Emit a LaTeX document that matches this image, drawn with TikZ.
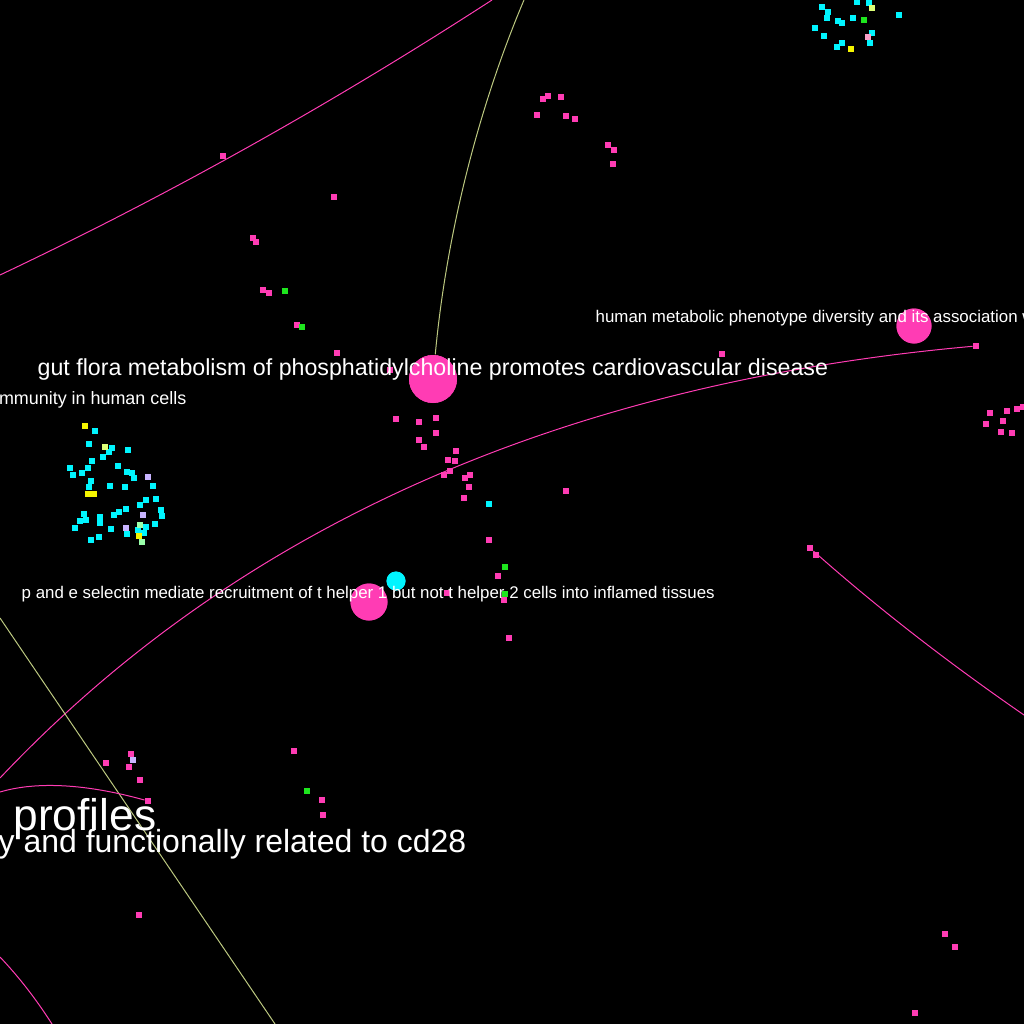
\documentclass[tikz,border=0pt]{standalone}
\usepackage{fontspec}
\setmainfont{Liberation Sans}
\usepackage{xcolor}
\usepackage{tikz}
\usetikzlibrary{positioning}

\definecolor{hotpink}{HTML}{FF3CB4}
\definecolor{aqua}{HTML}{00F5FF}
\definecolor{leaf}{HTML}{1EE61E}
\definecolor{lemon}{HTML}{F5F500}
\definecolor{lime}{HTML}{DDFF77}
\definecolor{lilac}{HTML}{C8B4FF}
\definecolor{blush}{HTML}{F8A0C8}
\definecolor{mint}{HTML}{99FFAA}
\definecolor{olive}{HTML}{BCC880}

\begin{document}
\begin{tikzpicture}[
    x=0.1mm, y=-0.1mm,
    dot/.style={rectangle, minimum size=0.55mm, inner sep=0pt, draw=none},
    pdot/.style={dot, fill=hotpink},
    cdot/.style={dot, fill=aqua},
    gdot/.style={dot, fill=leaf},
    ydot/.style={dot, fill=lemon},
    ldot/.style={dot, fill=lime},
    vdot/.style={dot, fill=lilac},
    bdot/.style={dot, fill=blush},
    mdot/.style={dot, fill=mint},
    hub/.style={circle, inner sep=0pt, draw=none},
    pedge/.style={draw=hotpink, line width=0.1mm},
    oedge/.style={draw=olive, line width=0.1mm},
    lbl/.style={text=white, inner sep=0pt},
    small/.style={lbl, font=\fontsize{4.8pt}{5.5pt}\selectfont},
    medium/.style={lbl, font=\fontsize{6.6pt}{7.5pt}\selectfont},
    large/.style={lbl, font=\fontsize{9.1pt}{10pt}\selectfont},
    huge/.style={lbl, font=\fontsize{12.6pt}{14pt}\selectfont}
]
\path[use as bounding box] (0,0) rectangle (1024,1024);
\fill[black] (0,0) rectangle (1024,1024);
\clip (0,0) rectangle (1024,1024);

% free ends outside the frame
\coordinate (w1) at (0,275);
\coordinate (n1) at (492,0);
\coordinate (n2) at (524,0);
\coordinate (w3) at (0,778);
\coordinate (s4) at (1024,715);
\coordinate (w5) at (0,618);
\coordinate (s5) at (275,1024);
\coordinate (w6) at (0,792);
\coordinate (w7) at (0,957);
\coordinate (s7) at (52,1024);

% hubs
\node[hub, fill=hotpink, minimum size=4.8mm] (gut) at (433,379) {};
\node[hub, fill=hotpink, minimum size=3.5mm] (hmp) at (914,326) {};
\node[hub, fill=hotpink, minimum size=3.7mm] (pse) at (369,602) {};
\node[hub, fill=aqua, minimum size=1.9mm] (th1) at (396,581) {};

% named end dots
\node[pdot] (far) at (976,346) {};
\node[pdot] (seed) at (810,548) {};
\node[pdot] (arc) at (148,801) {};

% edges
\draw[pedge] (w1) .. controls (169,195) and (333,103) .. (n1);
\draw[oedge] (gut) .. controls (446,238) and (477,111) .. (n2);
\draw[pedge] (w3) .. controls (237,527) and (562,383) .. (far);
\draw[pedge] (seed) .. controls (881,611) and (953,666) .. (s4);
\draw[oedge] (w5) -- (s5);
\draw[pedge] (w6) .. controls (37,781) and (87,784) .. (arc);
\draw[pedge] (w7) .. controls (19,977) and (36,999) .. (s7);

% redraw hubs and end dots above the edges
\node[hub, fill=hotpink, minimum size=4.8mm] at (gut) {};
\node[pdot] at (far) {};
\node[pdot] at (seed) {};
\node[pdot] at (arc) {};

% pink dots
\foreach \x/\y [count=\i] in {223/156, 334/197, 253/238, 256/242, 263/290, 269/293,
    297/325, 337/353, 390/370, 543/99, 548/96, 561/97, 537/115, 566/116, 575/119,
    608/145, 614/150, 613/164, 396/419, 419/422, 436/418, 419/440, 436/433, 424/447,
    456/451, 448/460, 455/461, 450/471, 444/475, 470/475, 465/478, 469/487, 464/498,
    489/540, 498/576, 447/593, 504/600, 509/638, 566/491, 722/354, 990/413, 1007/411,
    1017/409, 1023/407, 1003/421, 986/424, 1001/432, 1012/433, 816/555, 131/754,
    106/763, 129/767, 140/780, 294/751, 322/800, 323/815, 139/915, 945/934, 955/947,
    915/1013}
    \node[pdot] (p\i) at (\x,\y) {};

% green dots
\foreach \x/\y [count=\i] in {285/291, 302/327, 505/567, 505/594, 864/20, 307/791}
    \node[gdot] (g\i) at (\x,\y) {};

% cyan dots
\foreach \x/\y [count=\i] in {489/504, 822/7, 828/12, 857/2, 869/3, 899/15, 827/18,
    838/21, 842/23, 853/18, 815/28, 824/36, 872/33, 842/43, 837/47, 870/43,
    95/431, 89/444, 112/448, 109/452, 128/450, 103/457, 92/461, 118/466, 70/468,
    88/468, 82/473, 73/475, 127/472, 132/473, 134/478, 91/481, 89/487, 110/486,
    125/487, 153/486, 146/500, 156/499, 140/505, 126/509, 119/512, 114/515, 161/510,
    162/516, 84/514, 100/517, 86/520, 80/521, 100/523, 75/528, 111/529, 138/530,
    146/527, 155/524, 144/533, 127/534, 91/540, 99/537}
    \node[cdot] (c\i) at (\x,\y) {};

% other dots
\foreach \x/\y [count=\i] in {851/49, 85/426, 88/494, 94/494, 139/536}
    \node[ydot] (y\i) at (\x,\y) {};
\foreach \x/\y [count=\i] in {872/8, 105/447}
    \node[ldot] (l\i) at (\x,\y) {};
\foreach \x/\y [count=\i] in {148/477, 143/515, 126/528, 133/760}
    \node[vdot] (v\i) at (\x,\y) {};
\foreach \x/\y [count=\i] in {140/525, 142/542}
    \node[mdot] (m\i) at (\x,\y) {};
\node[bdot] (b1) at (868,37) {};

% small hubs on top
\node[hub, fill=hotpink, minimum size=3.5mm] at (hmp) {};
\node[hub, fill=hotpink, minimum size=3.7mm] at (pse) {};
\node[hub, fill=aqua, minimum size=1.9mm] at (th1) {};

% labels
\node[medium, anchor=base west] (gutlbl) at (37,375) {gut flora metabolism of phosphatidylcholine promotes cardiovascular disease};
\node[small, anchor=base west] (hmplbl) at (595,322) {human metabolic phenotype diversity and its association w};
\node[small, anchor=base west] (pselbl) at (21,598) {p and e selectin mediate recruitment of t helper 1 but not t helper 2 cells into inflamed tissues};
\node[small, font=\fontsize{5.1pt}{6pt}\selectfont, anchor=base east] (immlbl) at (187,404) {mmunity in human cells};
\node[huge, anchor=base east] (prflbl) at (157,830) {profiles};
\node[large, anchor=base east] (cd28lbl) at (467,852) {y and functionally related to cd28};
\end{tikzpicture}
\end{document}
